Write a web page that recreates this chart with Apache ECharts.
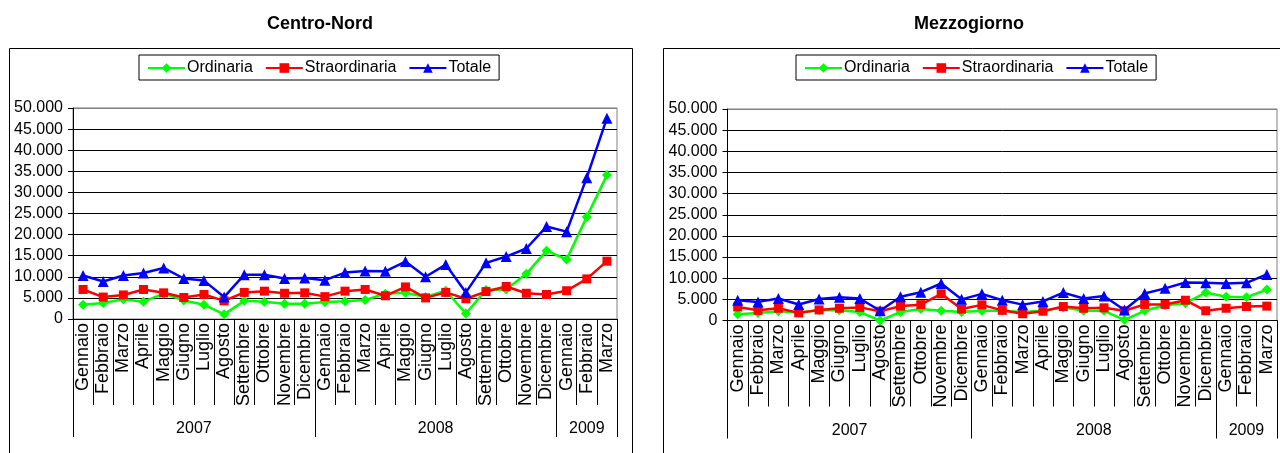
<!DOCTYPE html>
<html>
<head>
<meta charset="utf-8">
<script src="https://cdn.jsdelivr.net/npm/echarts@6/dist/echarts.min.js"></script>
<style>
html,body{margin:0;padding:0;background:#fff;}
#chart{width:1280px;height:453px;}
</style>
</head>
<body>
<div id="chart"></div>
<script>
// ---- data ----
var months = ['Gennaio','Febbraio','Marzo','Aprile','Maggio','Giugno','Luglio','Agosto','Settembre','Ottobre','Novembre','Dicembre',
              'Gennaio','Febbraio','Marzo','Aprile','Maggio','Giugno','Luglio','Agosto','Settembre','Ottobre','Novembre','Dicembre',
              'Gennaio','Febbraio','Marzo'];
var years = ['2007','2008','2009'];
var yearCounts = [12, 12, 3];
var panelTitles = ['Centro-Nord', 'Mezzogiorno'];
var seriesNames = ['Ordinaria', 'Straordinaria', 'Totale'];
var yTicks = [0, 5000, 10000, 15000, 20000, 25000, 30000, 35000, 40000, 45000, 50000];

var cnOrdinaria = [3400,3800,4700,4100,6000,4400,3400,1100,4300,4100,3600,3600,
                   4000,4200,4500,6000,6200,5200,6700,1300,6900,7000,10700,16200,
                   14100,24200,34100];
var cnStraordinaria = [7000,5200,5700,7000,6200,5100,5800,4300,6300,6600,6100,6200,
                       5300,6600,7000,5500,7600,5000,6300,4800,6500,7700,6100,5800,
                       6700,9500,13700];
var cnTotale = [10300,8900,10300,10900,12100,9600,9100,5200,10500,10500,9600,9700,
                9200,11000,11400,11300,13600,10000,12900,6300,13300,14800,16700,21900,
                20700,33500,47600];

var mzOrdinaria = [1500,1800,2200,1900,2400,2400,2000,0,2000,2700,2300,2000,
                   2300,2300,2000,2300,3100,2300,2300,150,2300,3600,4100,6600,
                   5600,5500,7300];
var mzStraordinaria = [3200,2400,2900,1800,2500,2900,3100,2200,3400,3750,6300,2700,
                       3700,2400,1600,2200,3300,2900,3000,2300,3800,3800,4800,2300,
                       2900,3300,3400];
var mzTotale = [4800,4400,5200,3800,5100,5500,5200,2300,5600,6700,8750,5000,
                6300,4800,3750,4500,6600,5200,5800,2500,6400,7600,9000,8900,
                8750,8900,10900];

// ---- derived positions for year grouping ----
var yearBounds = [0];
var yearCenters = [];
(function(){
  var acc = 0;
  for (var i = 0; i < yearCounts.length; i++) {
    yearCenters.push(acc + yearCounts[i] / 2);
    acc += yearCounts[i];
    yearBounds.push(acc);
  }
})();

var FONT = "'Liberation Sans', Arial, sans-serif";
var colors = ['#00FF00', '#FF0000', '#0000FF'];
var symbols = ['diamond', 'rect', 'triangle'];
var symbolSizes = [10, 9, 11];

function fmtThousands(v) {
  return String(v).replace(/\B(?=(\d{3})+(?!\d))/g, '.');
}

var grids = [
  {left: 73, top: 108, width: 544, height: 211},
  {left: 727.5, top: 109, width: 549.5, height: 211.5}
];
var panelCenters = [315, 964];
var legendLefts = [139, 796];
var boxes = [{x: 9, w: 623}, {x: 663, w: 640}];

var option = {
  backgroundColor: '#fff',
  animation: false,
  title: panelTitles.map(function(t, i){
    return {text: t, left: panelCenters[i], top: 10, textAlign: 'center',
      textStyle: {fontFamily: FONT, fontSize: 18, fontWeight: 'bold', color: '#000'}};
  }),
  legend: legendLefts.map(function(l){
    return {left: l, top: 55, orient: 'horizontal', data: seriesNames,
      itemWidth: 37, itemHeight: 12, itemGap: 12,
      borderColor: '#000', borderWidth: 1, padding: [5, 8, 4, 8],
      backgroundColor: '#fff',
      textStyle: {fontFamily: FONT, fontSize: 16, color: '#000', padding: [0,0,0,-3]}};
  }),
  graphic: boxes.map(function(b){
    return {type: 'rect', silent: true, z: -10,
      shape: {x: b.x + 0.5, y: 48.5, width: b.w, height: 420},
      style: {fill: '#fff', stroke: '#000', lineWidth: 1}};
  }),
  grid: grids.map(function(g){
    return {left: g.left, top: g.top, width: g.width, height: g.height,
      show: true, borderColor: '#808080', borderWidth: 1, backgroundColor: '#fff'};
  }),
  xAxis: [],
  yAxis: [],
  series: []
};

var panelData = [
  [cnOrdinaria, cnStraordinaria, cnTotale],
  [mzOrdinaria, mzStraordinaria, mzTotale]
];

var splitColors = yTicks.map(function(v, i){ return i === yTicks.length - 1 ? '#808080' : '#000'; });

for (var p = 0; p < 2; p++) {
  // month axis
  option.xAxis.push({
    type: 'category', gridIndex: p, position: 'bottom', offset: 0,
    data: months, boundaryGap: true,
    axisLine: {show: true, lineStyle: {color: '#000', width: 1}},
    axisTick: {show: true, interval: 0, length: 86, lineStyle: {color: '#000', width: 1}},
    axisLabel: {interval: 0, rotate: 90, margin: 4, fontFamily: FONT, fontSize: 18, color: '#000'},
    splitLine: {show: false}
  });
  // year grouping axis
  option.xAxis.push({
    type: 'value', gridIndex: p, position: 'bottom', offset: 0,
    min: 0, max: months.length,
    axisLine: {show: false},
    axisTick: {show: true, customValues: yearBounds, length: 118, lineStyle: {color: '#000', width: 1}},
    axisLabel: {show: true, customValues: yearCenters, margin: 102, fontFamily: FONT, fontSize: 16, color: '#000',
      formatter: function(v){ var i = yearCenters.indexOf(v); return i >= 0 ? years[i] : ''; }},
    splitLine: {show: false}
  });
  option.yAxis.push({
    type: 'value', gridIndex: p, min: yTicks[0], max: yTicks[yTicks.length - 1],
    interval: yTicks[1] - yTicks[0],
    axisLine: {show: true, lineStyle: {color: '#000', width: 1}},
    axisTick: {show: true, length: 5, inside: false, lineStyle: {color: '#000'}},
    axisLabel: {margin: 10, fontFamily: FONT, fontSize: 16, color: '#000', formatter: fmtThousands},
    splitLine: {show: true, lineStyle: {color: splitColors, width: 1}}
  });
  for (var s = 0; s < 3; s++) {
    option.series.push({
      name: seriesNames[s], type: 'line',
      xAxisIndex: p * 2, yAxisIndex: p,
      data: panelData[p][s],
      symbol: symbols[s], symbolSize: symbolSizes[s],
      itemStyle: {color: colors[s]},
      lineStyle: {color: colors[s], width: 2.5},
      z: 2 + s
    });
  }
}

var chart = echarts.init(document.getElementById('chart'), null, {renderer: 'canvas'});
chart.setOption(option);
</script>
</body>
</html>
